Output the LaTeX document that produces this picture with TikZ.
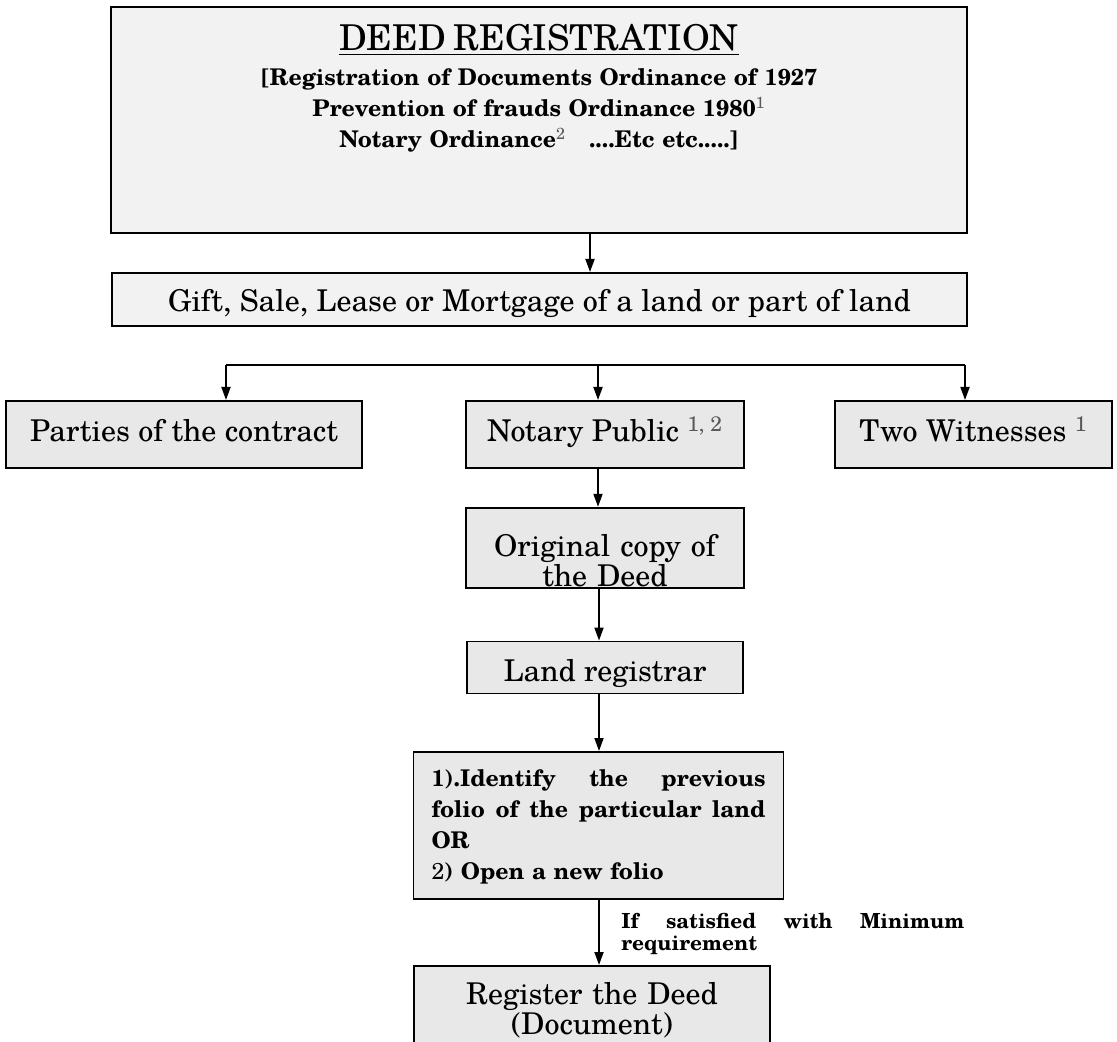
\documentclass[tikz,border=0pt]{standalone}
\usepackage{fontspec}
\setmainfont{texgyreschola}[Extension=.otf, UprightFont=*-regular, BoldFont=*-bold, ItalicFont=*-italic, BoldItalicFont=*-bolditalic]
\usepackage{tikz}
\usetikzlibrary{arrows.meta, positioning, calc}
\definecolor{boxlight}{HTML}{F2F2F2}
\definecolor{boxgray}{HTML}{E8E8E8}
\newcommand{\refmark}[1]{\textsuperscript{\color{black!65}\mdseries #1}}

\begin{document}
\begin{tikzpicture}[x=0.5pt, y=-0.5pt,
		box/.style={rectangle, draw, line width=0.9pt, fill=boxgray, inner sep=0pt, font=\fontsize{15}{15}\selectfont},
		arr/.style={-{Triangle[length=6.5pt, width=4.5pt]}, line width=0.9pt}]
	\clip (0,0) rectangle (1117,1042);
	\fill[white] (0,0) rectangle (1117,1042);
	\node[box, fill=boxlight, anchor=north, minimum width=428pt, text width=428pt, align=center, text height=22pt, text depth=91pt, font=\bfseries\fontsize{11.5}{15.5}\selectfont] (DEED) at (539,6) {{\mdseries\fontsize{17.8}{17.8}\selectfont\underline{DEED REGISTRATION}}\\[2pt] {[}Registration of Documents Ordinance of 1927\\ Prevention of frauds Ordinance 1980\refmark{1}\\ Notary Ordinance\refmark{2}\quad ....Etc etc.....]};
	\node[box, fill=boxlight, anchor=north, minimum width=427.5pt, text height=19.5pt, text depth=7pt] (GIFT) at (539.5,272) {Gift, Sale, Lease or Mortgage of a land or part of land};
	\node[box, anchor=north, minimum width=178pt, text height=20.5pt, text depth=13pt] (PARTIES) at (184,400) {Parties of the contract};
	\node[box, anchor=north, minimum width=139pt, text height=20.5pt, text depth=13pt] (NOTARY) at (605,400) {Notary Public \refmark{1, 2}};
	\node[box, anchor=north, minimum width=138.5pt, text height=20.5pt, text depth=13pt] (WITNESS) at (973.5,400) {Two Witnesses \refmark{1}};
	\node[box, below=19pt of NOTARY, text width=139pt, align=center, text height=24.5pt, text depth=15.5pt] (ORIGINAL) {Original copy of\\ the Deed};
	\node[box, below=26pt of ORIGINAL, minimum width=138pt, text height=20pt, text depth=6pt] (REGISTRAR) {Land registrar};
	\node[box, anchor=north, inner xsep=9pt, text width=167pt, align=left, text height=17.5pt, text depth=56pt, font=\bfseries\fontsize{11.5}{15.5}\selectfont] (FOLIO) at (598.5,751) {\makebox[\linewidth][l]{1).Identify\hfill the\hfill previous}\\ \makebox[\linewidth][l]{folio\hfill of\hfill the\hfill particular\hfill land}\\ OR\\ {\mdseries 2}) Open a new folio};
	\node[box, anchor=north, minimum width=178pt, text width=178pt, align=center, text height=19.5pt, text depth=33pt] (REGISTER) at (592,965) {Register the Deed\\ (Document)};
	\node[anchor=base west, inner sep=0pt, text width=171.5pt, align=left, font=\bfseries\fontsize{10.4}{11}\selectfont] (COND) at (621,928) {\makebox[\linewidth][l]{If\hfill satisfied\hfill with\hfill Minimum}\\ requirement};
	\coordinate (DG) at (590,0);
	\coordinate (SP) at (599,0);
	\coordinate (BL) at (226,365);
	\coordinate (BM) at (598,365);
	\coordinate (BR) at (965,365);
	\draw[arr] (DEED.south -| DG) -- (GIFT.north -| DG);
	\draw[line width=0.9pt] (BL) -- (BR);
	\draw[arr] (BL) -- (PARTIES.north -| BL);
	\draw[arr] (BM) -- (NOTARY.north -| BM);
	\draw[arr] (BR) -- (WITNESS.north -| BR);
	\draw[arr] (NOTARY.south -| BM) -- (ORIGINAL.north -| BM);
	\draw[arr] (ORIGINAL.south -| SP) -- (REGISTRAR.north -| SP);
	\draw[arr] (REGISTRAR.south -| SP) -- (FOLIO.north -| SP);
	\draw[arr] (FOLIO.south -| SP) -- (REGISTER.north -| SP);
\end{tikzpicture}
\end{document}
